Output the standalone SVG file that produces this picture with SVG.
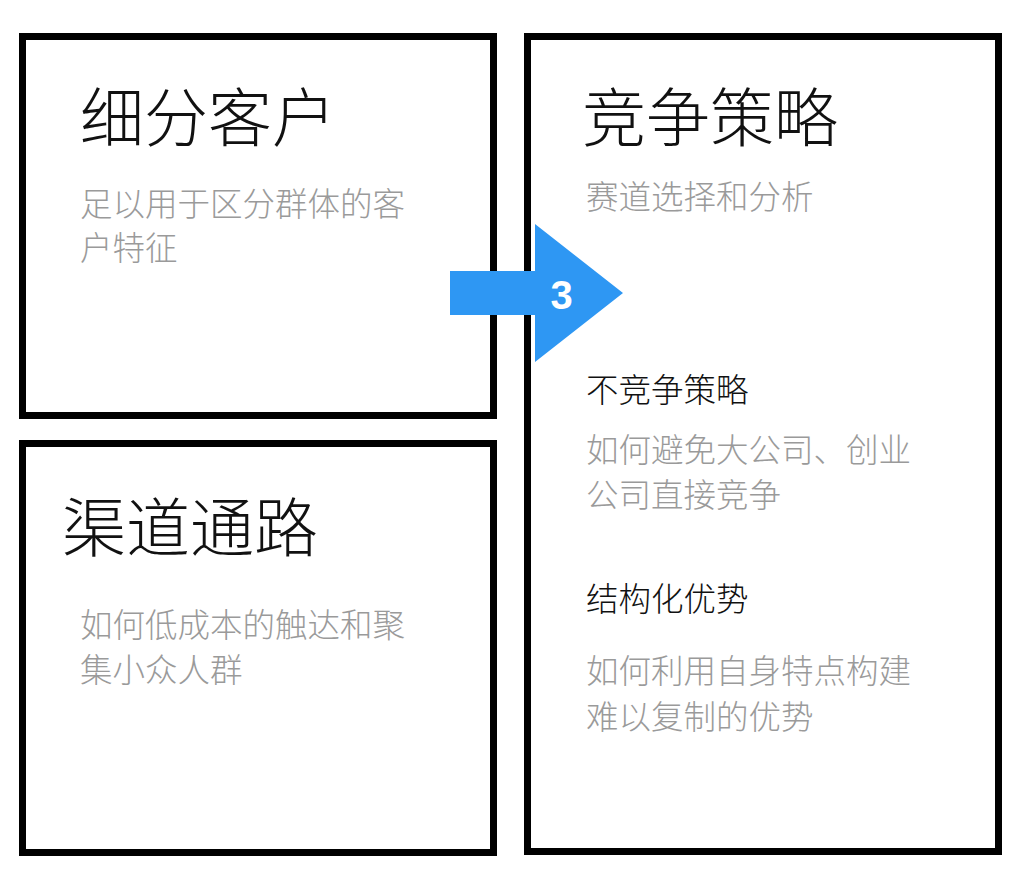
<svg xmlns="http://www.w3.org/2000/svg" width="1024" height="874" viewBox="0 0 1024 874">
<style>
.box{fill:#fff;stroke:#000;stroke-width:7}
.t{font-family:"Noto Sans CJK SC","Noto Sans",sans-serif;font-weight:300;font-size:64px;fill:#111}
.s{font-family:"Noto Sans CJK SC","Noto Sans",sans-serif;font-weight:300;font-size:32.5px;fill:#9a9a9a}
.h{font-family:"Noto Sans CJK SC","Noto Sans",sans-serif;font-weight:300;font-size:32.5px;fill:#111}
.n{font-family:"Liberation Sans",Arial,sans-serif;font-weight:bold;font-size:40px;fill:#fff}
</style>
<rect width="1024" height="874" fill="#fff"/>
<g id="node-segment">
<rect class="box" x="22.5" y="36.5" width="471" height="379"/>
<text class="t" x="80" y="141">细分客户</text>
<text class="s" x="80" y="216">足以用于区分群体的客</text>
<text class="s" x="80" y="260">户特征</text>
</g>
<g id="node-channel">
<rect class="box" x="22.5" y="443.5" width="471" height="409"/>
<text class="t" x="62" y="551">渠道通路</text>
<text class="s" x="80" y="637">如何低成本的触达和聚</text>
<text class="s" x="80" y="682">集小众人群</text>
</g>
<g id="node-strategy">
<rect class="box" x="527.5" y="36.5" width="471" height="815"/>
<text class="t" x="582" y="141">竞争策略</text>
<text class="s" x="586" y="209">赛道选择和分析</text>
<text class="h" x="586" y="402">不竞争策略</text>
<text class="s" x="586" y="462">如何避免大公司、创业</text>
<text class="s" x="586" y="507">公司直接竞争</text>
<text class="h" x="586" y="611">结构化优势</text>
<text class="s" x="586" y="683">如何利用自身特点构建</text>
<text class="s" x="586" y="729">难以复制的优势</text>
</g>
<g id="connectors">
<polygon points="450,271 535,271 535,224 623,293 535,362 535,315 450,315" fill="#2E97F3"/>
<text class="n" x="561.5" y="308.5" text-anchor="middle">3</text>
</g>
</svg>
